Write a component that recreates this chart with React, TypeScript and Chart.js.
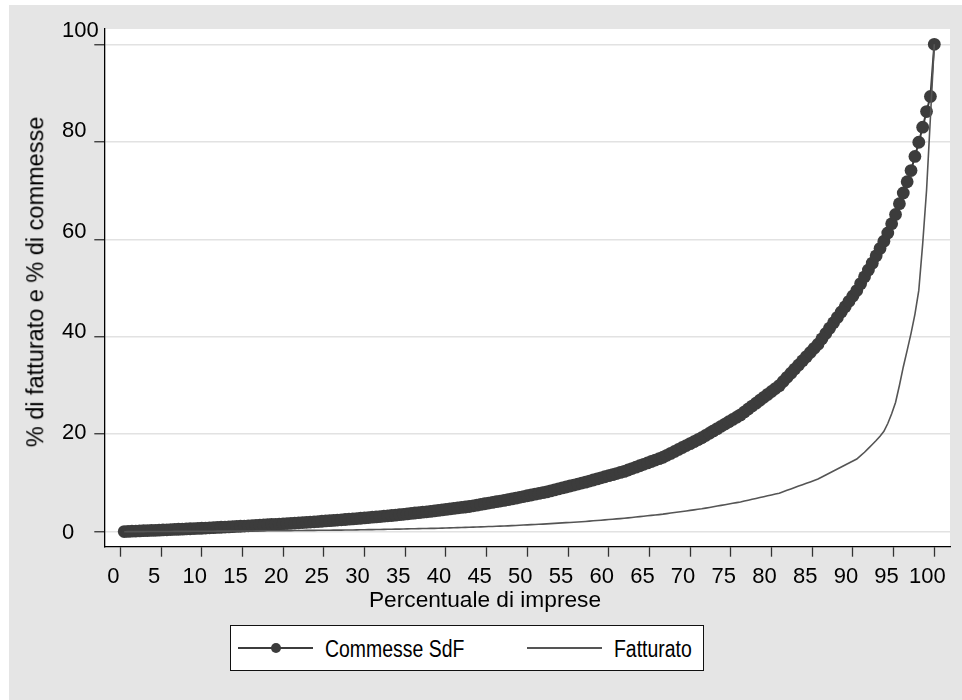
import { useEffect, useRef } from "react";
import { Chart, registerables } from "chart.js";

Chart.register(...registerables);

// Cumulative % of "commesse" (orders), firms sorted by rank (210 firms)
const commesseSdF = [
  0.03, 0.06, 0.1, 0.13, 0.17, 0.2, 0.23, 0.26, 0.29, 0.32,
  0.36, 0.39, 0.43, 0.46, 0.5, 0.53, 0.57, 0.6, 0.64, 0.67,
  0.71, 0.75, 0.79, 0.83, 0.87, 0.91, 0.95, 0.99, 1.03, 1.07,
  1.12, 1.16, 1.21, 1.25, 1.3, 1.34, 1.39, 1.43, 1.48, 1.52,
  1.57, 1.62, 1.67, 1.72, 1.77, 1.82, 1.87, 1.92, 1.97, 2.02,
  2.08, 2.14, 2.2, 2.26, 2.32, 2.38, 2.44, 2.5, 2.56, 2.62,
  2.69, 2.76, 2.83, 2.9, 2.97, 3.04, 3.11, 3.18, 3.25, 3.32,
  3.4, 3.49, 3.57, 3.66, 3.74, 3.83, 3.91, 4.0, 4.08, 4.17,
  4.27, 4.37, 4.47, 4.57, 4.67, 4.77, 4.87, 4.97, 5.07, 5.17,
  5.31, 5.45, 5.59, 5.73, 5.87, 6.01, 6.15, 6.29, 6.43, 6.57,
  6.73, 6.89, 7.05, 7.21, 7.37, 7.53, 7.69, 7.85, 8.01, 8.17,
  8.37, 8.57, 8.77, 8.97, 9.17, 9.37, 9.57, 9.77, 9.97, 10.17,
  10.39, 10.61, 10.83, 11.05, 11.27, 11.49, 11.71, 11.93, 12.15, 12.37,
  12.66, 12.95, 13.24, 13.53, 13.82, 14.11, 14.4, 14.69, 14.98, 15.27,
  15.67, 16.07, 16.47, 16.87, 17.27, 17.67, 18.07, 18.47, 18.87, 19.27,
  19.74, 20.21, 20.68, 21.15, 21.62, 22.09, 22.56, 23.03, 23.5, 23.97,
  24.57, 25.17, 25.77, 26.37, 26.97, 27.57, 28.17, 28.77, 29.37, 29.97,
  30.82, 31.67, 32.52, 33.37, 34.22, 35.07, 35.92, 36.77, 37.62, 38.47,
  39.57, 40.67, 41.77, 42.87, 43.97, 45.07, 46.17, 47.27, 48.37, 49.47,
  50.9, 52.3, 53.7, 55.1, 56.6, 58.1, 59.6, 61.3, 63.2,
  65.1, 67.3, 69.5, 71.8, 74.1, 77.0, 79.9, 83.0, 86.2, 89.3, 100,
];

// Cumulative % of "fatturato" (turnover), same firm ranking
const fatturato = [
  0.0, 0.01, 0.01, 0.02, 0.02, 0.02, 0.03, 0.03, 0.04, 0.04,
  0.04, 0.05, 0.05, 0.06, 0.06, 0.06, 0.07, 0.07, 0.08, 0.08,
  0.09, 0.09, 0.1, 0.1, 0.11, 0.11, 0.12, 0.12, 0.13, 0.13,
  0.14, 0.14, 0.15, 0.15, 0.16, 0.17, 0.17, 0.18, 0.18, 0.19,
  0.2, 0.21, 0.22, 0.22, 0.23, 0.24, 0.25, 0.26, 0.26, 0.27,
  0.28, 0.29, 0.3, 0.31, 0.32, 0.32, 0.33, 0.34, 0.35, 0.36,
  0.37, 0.39, 0.4, 0.42, 0.43, 0.44, 0.46, 0.47, 0.49, 0.5,
  0.52, 0.53, 0.55, 0.57, 0.59, 0.6, 0.62, 0.64, 0.65, 0.67,
  0.69, 0.71, 0.74, 0.76, 0.78, 0.81, 0.83, 0.85, 0.88, 0.9,
  0.93, 0.96, 0.99, 1.02, 1.05, 1.08, 1.11, 1.14, 1.17, 1.2,
  1.24, 1.28, 1.32, 1.36, 1.4, 1.44, 1.48, 1.52, 1.56, 1.6,
  1.65, 1.7, 1.75, 1.8, 1.85, 1.9, 1.95, 2.0, 2.05, 2.1,
  2.16, 2.23, 2.29, 2.36, 2.42, 2.49, 2.55, 2.62, 2.68, 2.75,
  2.83, 2.92, 3.0, 3.09, 3.17, 3.26, 3.34, 3.43, 3.51, 3.6,
  3.71, 3.82, 3.93, 4.04, 4.15, 4.26, 4.37, 4.48, 4.59, 4.7,
  4.84, 4.98, 5.12, 5.26, 5.4, 5.54, 5.68, 5.82, 5.96, 6.1,
  6.28, 6.46, 6.64, 6.82, 7.0, 7.18, 7.36, 7.54, 7.72, 7.9,
  8.19, 8.48, 8.77, 9.06, 9.35, 9.64, 9.93, 10.22, 10.51, 10.8,
  11.21, 11.62, 12.03, 12.44, 12.85, 13.26, 13.67, 14.08, 14.49, 14.9,
  15.6, 16.3, 17.1, 17.9, 18.7, 19.6, 20.6, 22.2, 24.2, 26.5,
  30.0, 33.8, 37.2, 40.7, 44.6, 49.5, 59.0, 70.0, 85.0, 100,
];

const seriesNames = ["Commesse SdF", "Fatturato"];
const xTickValues = [0, 5, 10, 15, 20, 25, 30, 35, 40, 45, 50, 55, 60, 65, 70, 75, 80, 85, 90, 95, 100];
const yTickValues = [0, 20, 40, 60, 80, 100];
const xTitle = "Percentuale di imprese";
const yTitle = "% di fatturato e % di commesse";

const FONT = '"Liberation Sans", Arial, Helvetica, sans-serif';
const DARK = "#3c3c3c";
const LINE2 = "#555555";

const plotBackground = {
  id: "plotBackground",
  beforeDraw(chart: any) {
    const { ctx, chartArea } = chart;
    if (!chartArea) return;
    ctx.save();
    ctx.fillStyle = "#ffffff";
    ctx.fillRect(chartArea.left, chartArea.top, chartArea.right - chartArea.left, chartArea.bottom - chartArea.top);
    ctx.restore();
  },
};

export default function App() {
  const ref = useRef<HTMLCanvasElement>(null);

  useEffect(() => {
    const n = commesseSdF.length;
    const rankPct = (i: number) => ((i + 1) * 100) / n;
    const chart = new Chart(ref.current!, {
      type: "line",
      data: {
        datasets: [
          {
            label: seriesNames[0],
            data: commesseSdF.map((v, i) => ({ x: rankPct(i), y: v })),
            borderColor: DARK,
            backgroundColor: DARK,
            borderWidth: 2,
            pointRadius: 6.4,
            pointBackgroundColor: DARK,
            pointBorderColor: DARK,
            pointBorderWidth: 0,
            order: 2,
          },
          {
            label: seriesNames[1],
            data: fatturato.map((v, i) => ({ x: rankPct(i), y: v })),
            borderColor: LINE2,
            backgroundColor: LINE2,
            borderWidth: 1.6,
            pointRadius: 0,
            order: 1,
          },
        ],
      },
      plugins: [plotBackground],
      options: {
        responsive: false,
        animation: false,
        events: [],
        layout: { padding: { left: 53, right: 12, top: 24, bottom: 103.3 } },
        plugins: { legend: { display: false }, tooltip: { enabled: false } },
        scales: {
          x: {
            type: "linear",
            min: -1.97,
            max: 101.93,
            afterBuildTicks: (s: any) => {
              s.ticks = xTickValues.map((v) => ({ value: v }));
            },
            afterFit: (s: any) => {
              s.height = 50;
            },
            grid: { drawOnChartArea: false, tickLength: 10, tickColor: "#333", tickWidth: 1.3 },
            border: { color: "#000", width: 1.3 },
            ticks: {
              font: { family: FONT, size: 22 },
              color: "#000",
              padding: 7,
              labelOffset: -7,
              maxRotation: 0,
              autoSkip: false,
            },
          },
          y: {
            type: "linear",
            position: "left",
            weight: 0,
            min: -3.08,
            max: 103.14,
            afterBuildTicks: (s: any) => {
              s.ticks = yTickValues.map((v) => ({ value: v }));
            },
            afterFit: (s: any) => {
              s.width = 0;
            },
            grid: { color: "#e2e2e2", lineWidth: 1.5, tickLength: 10, tickColor: "#333", tickWidth: 1.3 },
            border: { color: "#000", width: 1.3 },
            ticks: { display: false },
          },
          yLabels: {
            type: "linear",
            position: "left",
            weight: 1,
            min: -2.73,
            max: 100.4,
            afterBuildTicks: (s: any) => {
              s.ticks = yTickValues.map((v) => ({ value: v }));
            },
            afterFit: (s: any) => {
              s.width = 42.3;
            },
            grid: { display: false },
            border: { display: false },
            ticks: {
              crossAlign: "far",
              font: { family: FONT, size: 22 },
              color: "#000",
              padding: 0,
            },
          },
        },
      },
    } as any);
    return () => chart.destroy();
  }, []);

  const legendText: React.CSSProperties = {
    position: "absolute",
    top: 12.2,
    fontFamily: FONT,
    fontSize: 23,
    lineHeight: "23px",
    color: "#000",
    whiteSpace: "nowrap",
    transform: "scaleX(0.845)",
    transformOrigin: "left center",
  };

  return (
    <div
      style={{
        position: "absolute",
        left: 9,
        top: 5,
        width: 953,
        height: 695,
        background: "#e5e5e5",
        overflow: "hidden",
      }}
    >
      <canvas ref={ref} width={953} height={695} style={{ position: "absolute", left: 0, top: 0, display: "block" }} />
      <div
        style={{
          position: "absolute",
          left: 26.5,
          top: 276.5,
          transform: "translate(-50%, -50%) rotate(-90deg)",
          fontFamily: FONT,
          fontSize: 23.5,
          lineHeight: "23.5px",
          color: "#000",
          whiteSpace: "nowrap",
        }}
      >
        {yTitle}
      </div>
      <div
        style={{
          position: "absolute",
          left: 476,
          top: 583,
          transform: "translateX(-50%)",
          fontFamily: FONT,
          fontSize: 22.7,
          lineHeight: "22.7px",
          color: "#000",
          whiteSpace: "nowrap",
        }}
      >
        {xTitle}
      </div>
      <div
        style={{
          position: "absolute",
          left: 221,
          top: 620,
          width: 474,
          height: 46,
          boxSizing: "border-box",
          border: "1px solid #111",
          background: "#fff",
        }}
      >
        <div style={{ position: "absolute", left: 7.3, top: 21.3, width: 75, height: 2, background: DARK }} />
        <div
          style={{
            position: "absolute",
            left: 40,
            top: 17.3,
            width: 10,
            height: 10,
            borderRadius: "50%",
            background: DARK,
          }}
        />
        <div style={{ ...legendText, left: 94 }}>{seriesNames[0]}</div>
        <div style={{ position: "absolute", left: 295.7, top: 21.3, width: 75.6, height: 2, background: LINE2 }} />
        <div style={{ ...legendText, left: 383.3 }}>{seriesNames[1]}</div>
      </div>
    </div>
  );
}
